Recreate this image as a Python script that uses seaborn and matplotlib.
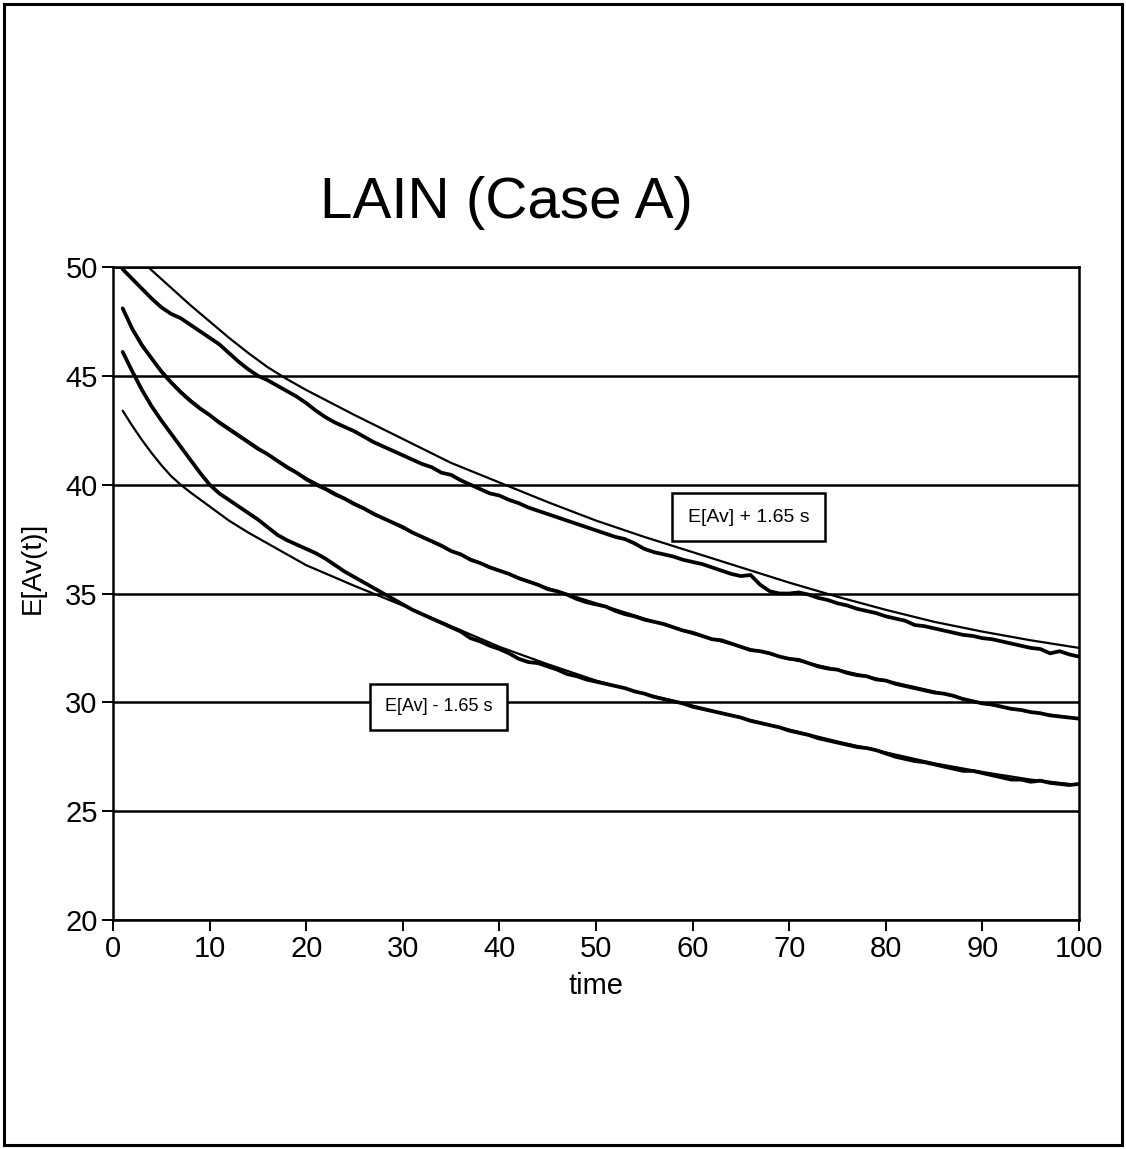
import matplotlib
matplotlib.use("Agg")
import matplotlib.pyplot as plt
from matplotlib import font_manager
from matplotlib.patches import Rectangle
import numpy as np
import pandas as pd
import seaborn as sns

# ---------------- data ----------------
T_SMOOTH = [1, 2, 3, 4, 5, 6, 7, 8, 10, 12, 14, 16, 18, 20, 25, 30, 35, 40, 45,
            50, 55, 60, 65, 70, 75, 80, 85, 90, 95, 100]
UPPER_SMOOTH = [51.1, 50.7, 50.3, 49.85, 49.45, 49.05, 48.65, 48.25, 47.5, 46.75,
                46.05, 45.4, 44.85, 44.35, 43.2, 42.1, 41.0, 40.1, 39.2, 38.35,
                37.6, 36.9, 36.2, 35.5, 34.85, 34.25, 33.7, 33.25, 32.85, 32.5]
MEAN_SMOOTH = [48.1, 47.2, 46.45, 45.8, 45.25, 44.75, 44.3, 43.9, 43.2, 42.6,
               42.0, 41.4, 40.85, 40.3, 39.15, 38.0, 36.95, 36.05, 35.25, 34.55,
               33.85, 33.15, 32.55, 32.0, 31.5, 31.0, 30.5, 29.95, 29.55, 29.25]
LOWER_SMOOTH = [43.4, 42.7, 42.05, 41.45, 40.9, 40.4, 40.0, 39.65, 39.0, 38.35,
                37.8, 37.3, 36.8, 36.3, 35.35, 34.45, 33.5, 32.55, 31.75, 31.0,
                30.4, 29.85, 29.3, 28.75, 28.2, 27.7, 27.2, 26.8, 26.45, 26.2]

T_SIM = list(range(1, 101))
UPPER_SIM = [49.90, 49.45, 49.00, 48.55, 48.15, 47.85, 47.65, 47.35, 47.05, 46.75,
             46.45, 46.05, 45.65, 45.30, 45.00, 44.80, 44.55, 44.30, 44.05, 43.75,
             43.40, 43.10, 42.85, 42.65, 42.45, 42.20, 41.95, 41.75, 41.55, 41.35,
             41.15, 40.95, 40.80, 40.55, 40.45, 40.20, 40.00, 39.80, 39.60, 39.50,
             39.30, 39.15, 38.95, 38.80, 38.65, 38.50, 38.35, 38.20, 38.05, 37.90,
             37.75, 37.60, 37.50, 37.30, 37.05, 36.90, 36.80, 36.70, 36.55, 36.45,
             36.35, 36.20, 36.05, 35.90, 35.80, 35.85, 35.40, 35.10, 35.00, 35.00,
             35.05, 34.95, 34.80, 34.70, 34.55, 34.45, 34.30, 34.20, 34.10, 33.95,
             33.85, 33.75, 33.55, 33.50, 33.40, 33.30, 33.20, 33.10, 33.05, 32.95,
             32.90, 32.80, 32.70, 32.60, 32.50, 32.45, 32.25, 32.35, 32.20, 32.10]
MEAN_SIM = [48.10, 47.15, 46.40, 45.80, 45.20, 44.70, 44.25, 43.85, 43.50, 43.20,
            42.85, 42.55, 42.25, 41.95, 41.65, 41.40, 41.10, 40.80, 40.55, 40.25,
            40.00, 39.80, 39.55, 39.35, 39.10, 38.90, 38.65, 38.45, 38.25, 38.05,
            37.80, 37.60, 37.40, 37.20, 36.95, 36.80, 36.55, 36.40, 36.20, 36.05,
            35.90, 35.70, 35.55, 35.40, 35.20, 35.10, 34.95, 34.75, 34.60, 34.50,
            34.40, 34.20, 34.05, 33.95, 33.80, 33.70, 33.60, 33.45, 33.30, 33.20,
            33.05, 32.90, 32.85, 32.70, 32.55, 32.40, 32.35, 32.25, 32.10, 32.00,
            31.95, 31.80, 31.65, 31.55, 31.50, 31.35, 31.25, 31.20, 31.05, 31.00,
            30.85, 30.75, 30.65, 30.55, 30.45, 30.40, 30.30, 30.15, 30.05, 29.95,
            29.90, 29.80, 29.70, 29.65, 29.55, 29.50, 29.40, 29.35, 29.30, 29.25]
LOWER_SIM = [46.10, 45.20, 44.35, 43.60, 42.95, 42.35, 41.75, 41.15, 40.55, 40.00,
             39.60, 39.30, 39.00, 38.70, 38.40, 38.05, 37.70, 37.45, 37.25, 37.05,
             36.85, 36.60, 36.30, 36.00, 35.75, 35.50, 35.25, 35.00, 34.75, 34.50,
             34.25, 34.05, 33.85, 33.65, 33.45, 33.25, 32.95, 32.80, 32.60, 32.45,
             32.25, 32.00, 31.85, 31.80, 31.65, 31.50, 31.30, 31.20, 31.05, 30.95,
             30.85, 30.75, 30.65, 30.50, 30.40, 30.25, 30.15, 30.05, 29.95, 29.80,
             29.70, 29.60, 29.50, 29.40, 29.30, 29.15, 29.05, 28.95, 28.85, 28.70,
             28.60, 28.50, 28.35, 28.25, 28.15, 28.05, 27.95, 27.90, 27.80, 27.65,
             27.50, 27.40, 27.30, 27.25, 27.15, 27.05, 26.95, 26.85, 26.85, 26.75,
             26.65, 26.55, 26.45, 26.45, 26.35, 26.40, 26.30, 26.25, 26.20, 26.25]

TITLE = "LAIN (Case A)"
X_LABEL = "time"
Y_LABEL = "E[Av(t)]"
X_TICKS = [0, 10, 20, 30, 40, 50, 60, 70, 80, 90, 100]
Y_TICKS = [20, 25, 30, 35, 40, 45, 50]
LABEL_UPPER = "E[Av] + 1.65 s"
LABEL_LOWER = "E[Av] - 1.65 s"
LABEL_UPPER_POS = (65.8, 38.5)
LABEL_LOWER_POS = (33.7, 29.8)

# ---------------- style ----------------
sns.set_theme(style="ticks")
names = {f.name for f in font_manager.fontManager.ttflist}
narrow = "Liberation Sans Narrow" if "Liberation Sans Narrow" in names else "Liberation Sans"
plt.rcParams["font.family"] = [narrow, "DejaVu Sans"]
plt.rcParams["axes.edgecolor"] = "black"
plt.rcParams["xtick.color"] = "black"
plt.rcParams["ytick.color"] = "black"

fig = plt.figure(figsize=(11.26, 11.49), dpi=100)
fig.patch.set_facecolor("white")
W, H = 1126, 1149
ax = fig.add_axes([113 / W, 1 - 920 / H, (1079 - 113) / W, (920 - 267) / H])
ax.set_facecolor("white")

smooth = pd.DataFrame({"t": T_SMOOTH, "upper": UPPER_SMOOTH,
                       "mean": MEAN_SMOOTH, "lower": LOWER_SMOOTH})
sim = pd.DataFrame({"t": T_SIM, "upper": UPPER_SIM,
                    "mean": MEAN_SIM, "lower": LOWER_SIM})

for col in ["upper", "mean", "lower"]:
    sns.lineplot(data=smooth, x="t", y=col, ax=ax, color="black", linewidth=1.6,
                 estimator=None, sort=False, zorder=3)
    sns.lineplot(data=sim, x="t", y=col, ax=ax, color="black", linewidth=2.7,
                 estimator=None, sort=False, zorder=3)

ax.set_xlim(0, 100)
ax.set_ylim(20, 50)
ax.set_xticks(X_TICKS)
ax.set_yticks(Y_TICKS)
ax.yaxis.grid(True, color="black", linewidth=1.8)
ax.xaxis.grid(False)
ax.set_axisbelow(True)
for s in ax.spines.values():
    s.set_color("black")
    s.set_linewidth(1.8)
ax.tick_params(axis="both", direction="out", length=8, width=1.4,
               labelsize=21, pad=3, colors="black")

ax.set_xlabel(X_LABEL, fontsize=21, labelpad=6, color="black")
ax.set_ylabel(Y_LABEL, fontsize=20, color="black")
ax.yaxis.set_label_coords(-0.07, 0.54)

box = dict(boxstyle="square,pad=0.8", facecolor="white", edgecolor="black", linewidth=1.8)
ax.text(*LABEL_UPPER_POS, LABEL_UPPER, fontsize=14, ha="center", va="center",
        bbox=box, zorder=5, color="black")
ax.text(*LABEL_LOWER_POS, LABEL_LOWER, fontsize=13, ha="center", va="center",
        bbox=box, zorder=5, color="black")

fig.text(506 / W, 1 - 203 / H, TITLE, fontsize=42, ha="center", va="center", color="black")

fig.patches.append(Rectangle((4 / W, 4 / H), 1 - 8 / W, 1 - 8 / H, transform=fig.transFigure,
                             fill=False, edgecolor="black", linewidth=2.2))

fig.savefig("out.png", dpi=100, facecolor="white")
